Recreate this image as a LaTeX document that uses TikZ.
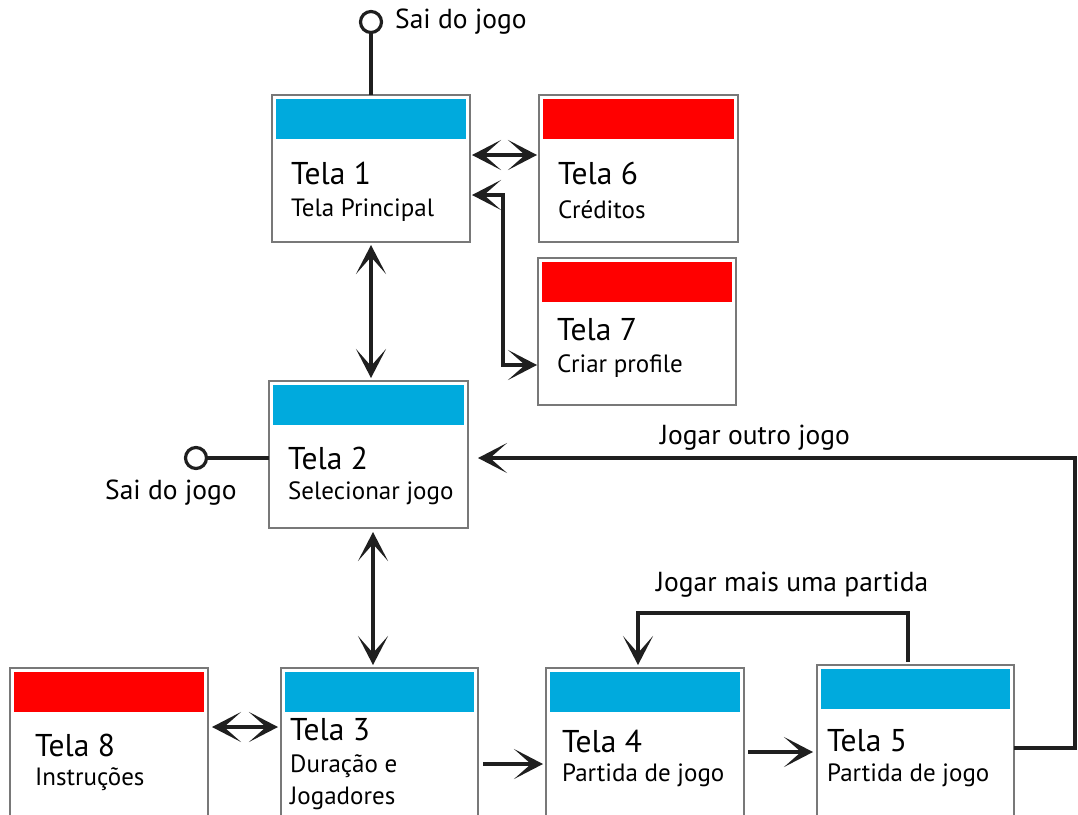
\documentclass[tikz,border=0pt]{standalone}
\usepackage{fontspec}
\setmainfont{PT Sans}
\usetikzlibrary{arrows.meta,calc}
\definecolor{cblue}{RGB}{0,170,221}
\definecolor{cred}{RGB}{255,0,0}
\definecolor{cborder}{RGB}{120,120,120}
\tikzset{
  scr/.style={draw=cborder, line width=1.6pt, fill=white, rectangle, inner sep=0pt, outer sep=0pt, anchor=north west},
  ttl/.style={anchor=west, inner sep=0pt, font=\fontsize{31.5}{33}\selectfont},
  sub/.style={anchor=west, inner sep=0pt, font=\fontsize{25}{32}\selectfont, align=left},
  lbl/.style={anchor=west, inner sep=0pt, font=\fontsize{27.5}{29}\selectfont},
  conn/.style={line width=3.4pt, draw=black!88},
  dbl/.style={arrows={Stealth[length=29pt, width=30pt, inset=17pt]-Stealth[length=29pt, width=30pt, inset=17pt]}},
  one/.style={arrows={-Stealth[length=29pt, width=30pt, inset=17pt]}},
  exitc/.style={circle, draw=black!88, line width=3.2pt, fill=white, minimum size=21pt, inner sep=0pt}
}
\begin{document}
\begin{tikzpicture}[x=1pt,y=-1pt]
\useasboundingbox (0,0) rectangle (1078,814);
\clip (0,0) rectangle (1078,814);
% boxes
\node[scr, minimum width=198pt, minimum height=147pt] (t1) at (272,95) {};
\node[scr, minimum width=199pt, minimum height=147pt] (t6) at (539,95) {};
\node[scr, minimum width=198pt, minimum height=147pt] (t7) at (538,258) {};
\node[scr, minimum width=199pt, minimum height=147pt] (t2) at (269,381) {};
\node[scr, minimum width=198pt, minimum height=160pt] (t8) at (10,668) {};
\node[scr, minimum width=197pt, minimum height=160pt] (t3) at (281,668) {};
\node[scr, minimum width=198pt, minimum height=160pt] (t4) at (546,668) {};
\node[scr, minimum width=197pt, minimum height=160pt] (t5) at (817,665) {};
% colour bars
\foreach \n/\c in {t1/cblue,t6/cred,t7/cred,t2/cblue,t8/cred,t3/cblue,t4/cblue,t5/cblue}{
  \fill[\c] ($(\n.north west)+(4,4)$) rectangle ($(\n.north east)+(-4,44)$);
}
% texts
\node[ttl] (t1a) at (291,173) {Tela 1};
\node[sub] (t1b) at (291,210) {Tela Principal};
\node[ttl] (t6a) at (558,173) {Tela 6};
\node[sub] (t6b) at (558,210) {Créditos};
\node[ttl] (t7a) at (557,330) {Tela 7};
\node[sub] (t7b) at (557,366) {Criar profile};
\node[ttl] (t2a) at (288,458) {Tela 2};
\node[sub] (t2b) at (288,493) {Selecionar jogo};
\node[ttl] (t8a) at (35,745) {Tela 8};
\node[sub] (t8b) at (35,779) {Instruções};
\node[ttl] (t3a) at (290,730) {Tela 3};
\node[sub] (t3b) at (290,766) {Duração e};
\node[sub] (t3c) at (290,798) {Jogadores};
\node[ttl] (t4a) at (562,741) {Tela 4};
\node[sub] (t4b) at (562,775) {Partida de jogo};
\node[ttl] (t5a) at (827,741) {Tela 5};
\node[sub] (t5b) at (827,775) {Partida de jogo};
% exits
\node[exitc] (e1) at (371,22) {};
\node[lbl] (e1l) at (395,22) {Sai do jogo};
\draw[conn] (e1.south) -- (e1.south |- t1.north);
\node[exitc] (e2) at (196,458) {};
\node[lbl] (e2l) at (105,493) {Sai do jogo};
\draw[conn] (e2.east) -- (t2.west |- e2.east);
% connectors
\draw[conn, dbl, shorten <=2pt, shorten >=2pt] (t1.east |- 0,155) -- (t6.west |- 0,155);
\coordinate (k1) at (503,365);
\draw[conn, dbl, shorten <=2pt, shorten >=1pt] (t1.east |- 0,195) -| (k1) -- (t7.west |- k1);
\draw[conn, dbl, shorten <=3pt, shorten >=3pt] (t1.south) -- (t1.south |- t2.north);
\coordinate (r1) at (1075,458);
\coordinate (r2) at (1075,748);
\draw[conn, one, shorten >=10pt] (t5.east |- r2) -- (r2) -- (r1) -- (t2.east |- r1);
\node[lbl] (jo) at (660,438) {Jogar outro jogo};
\draw[conn, dbl, shorten <=4pt, shorten >=3pt] (t2.south -| 373,0) -- (t3.north -| 373,0);
\draw[conn, dbl, shorten <=4pt, shorten >=3pt] (t8.east |- 0,727) -- (t3.west |- 0,727);
\draw[conn, one, shorten <=5pt, shorten >=3pt] (t3.east |- 0,764) -- (t4.west |- 0,764);
\draw[conn, one, shorten <=4pt, shorten >=4pt] (t4.east |- 0,752) -- (t5.west |- 0,752);
\coordinate (k2) at (638,613);
\draw[conn, one, shorten <=3pt, shorten >=3pt] (t5.north -| 908,0) |- (k2) -- (t4.north -| k2);
\node[lbl] (jm) at (656,585) {Jogar mais uma partida};
\end{tikzpicture}
\end{document}
